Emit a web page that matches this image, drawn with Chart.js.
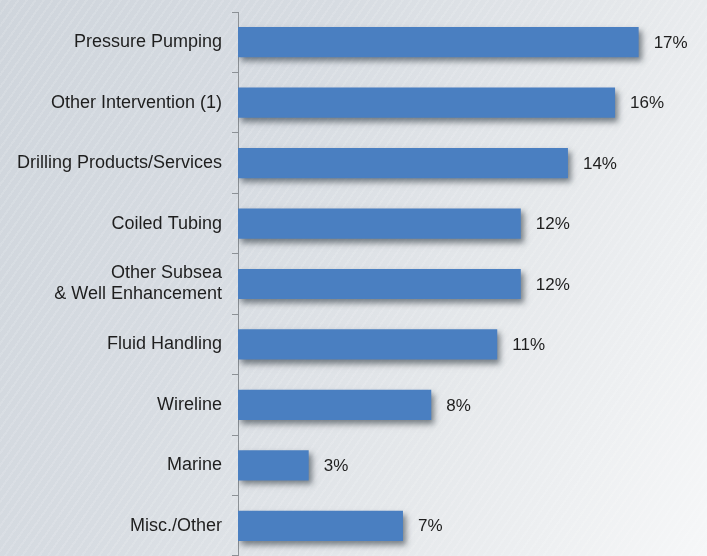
<!DOCTYPE html>
<html>
<head>
<meta charset="utf-8">
<script src="https://cdn.jsdelivr.net/npm/chart.js@4.4.1/dist/chart.umd.min.js"></script>
<style>
  html, body { margin: 0; padding: 0; }
  body {
    width: 707px; height: 556px; overflow: hidden;
    background:
      repeating-linear-gradient(-55deg, rgba(255,255,255,0.12) 0px, rgba(255,255,255,0.12) 2px, rgba(255,255,255,0) 2px, rgba(255,255,255,0) 7px),
      linear-gradient(115deg, #cfd5dc 0%, #d7dce2 35%, #e5e8eb 65%, #f6f7f8 100%);
  }
  #wrap { position: relative; width: 707px; height: 556px; }
</style>
</head>
<body>
<div id="wrap"><canvas id="chart"></canvas></div>
<script>
// Categorías del gráfico (de arriba hacia abajo)
const categorias = [
  'Pressure Pumping',
  'Other Intervention (1)',
  'Drilling Products/Services',
  'Coiled Tubing',
  ['Other Subsea', '& Well Enhancement'],
  'Fluid Handling',
  'Wireline',
  'Marine',
  'Misc./Other'
];

// Valores (porcentaje)
const valores = [17, 16, 14, 12, 12, 11, 8.2, 3, 7];

// Textos de las etiquetas al final de cada barra
const etiquetas = ['17%', '16%', '14%', '12%', '12%', '11%', '8%', '3%', '7%'];

// Sombra suave debajo de las barras
const sombraBarras = {
  id: 'sombraBarras',
  beforeDatasetDraw(chart) {
    const ctx = chart.ctx;
    ctx.save();
    ctx.shadowColor = 'rgba(30, 40, 50, 0.55)';
    ctx.shadowBlur = 6;
    ctx.shadowOffsetX = 3;
    ctx.shadowOffsetY = 4;
  },
  afterDatasetDraw(chart) {
    chart.ctx.restore();
  }
};

// Dibuja los porcentajes a la derecha de las barras
const etiquetasBarras = {
  id: 'etiquetasBarras',
  afterDraw(chart) {
    const ctx = chart.ctx;
    const meta = chart.getDatasetMeta(0);
    ctx.save();
    ctx.font = '17px "Liberation Sans", Arial, sans-serif';
    ctx.fillStyle = '#1e1e1e';
    ctx.textAlign = 'left';
    ctx.textBaseline = 'middle';
    meta.data.forEach((bar, i) => {
      ctx.fillText(etiquetas[i], bar.x + 15, bar.y + 1);
    });
    ctx.restore();
  }
};

const ctx = document.getElementById('chart').getContext('2d');

new Chart(ctx, {
  type: 'bar',
  data: {
    labels: categorias,
    datasets: [{
      data: valores,
      backgroundColor: '#4a7fc1',
      borderWidth: 0,
      categoryPercentage: 1,
      barPercentage: 0.5
    }]
  },
  options: {
    indexAxis: 'y',
    responsive: true,
    maintainAspectRatio: false,
    animation: false,
    layout: { padding: { top: 12, right: 0, bottom: -2, left: 0 } },
    scales: {
      x: {
        display: false,
        min: 0,
        max: 19.9
      },
      y: {
        afterFit(scale) {
          scale.width = 238;
          scale.paddingTop = 0;
          scale.paddingBottom = 0;
        },
        border: { display: true, color: '#8c9196', width: 1 },
        grid: {
          drawOnChartArea: false,
          drawTicks: true,
          tickLength: 6,
          color: '#8c9196',
          offset: true
        },
        ticks: {
          color: '#1e1e1e',
          padding: 10,
          font: { family: '"Liberation Sans", Arial, sans-serif', size: 18, lineHeight: 1.17 }
        }
      }
    },
    plugins: {
      legend: { display: false },
      tooltip: { enabled: false }
    }
  },
  plugins: [sombraBarras, etiquetasBarras]
});
</script>
</body>
</html>
